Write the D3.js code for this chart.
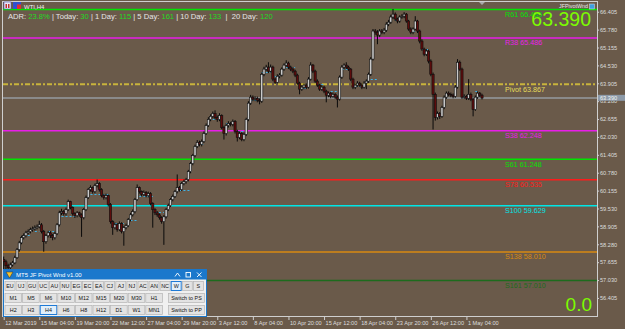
<!DOCTYPE html>
<html>
<head>
<meta charset="utf-8">
<script src="https://cdn.jsdelivr.net/npm/d3@7"></script>
<style>
  html, body { margin: 0; padding: 0; background: #6a5a4a; overflow: hidden; }
</style>
</head>
<body>
<div id="chart"></div>
<script>
// WTI H4 bars, 12 Mar 2019 12:00 -> 2 May 2019
const opens = [
  57.75,57.67,57.53,57.46,57.56,57.63,57.81,58.09,58.33,58.51,
  58.58,58.68,58.72,58.79,58.82,58.86,58.89,58.96,58.72,58.37,
  58.58,58.68,58.58,58.51,58.65,58.96,59.38,59.42,59.35,59.49,
  59.77,59.56,59.35,59.28,59.38,59.31,59.21,59.49,59.91,60.19,
  60.26,60.12,60.33,60.40,60.19,59.98,59.91,59.98,59.67,59.07,
  58.86,58.96,58.79,59.00,58.72,58.86,58.93,59.14,59.31,59.42,
  59.84,60.26,60.12,60.02,60.09,59.98,60.05,59.70,59.49,59.38,
  59.31,59.21,59.07,59.24,59.49,59.63,59.84,59.95,60.12,60.26,
  60.19,60.40,60.47,60.54,60.82,61.10,61.38,61.70,61.84,61.77,
  61.87,62.15,62.43,62.64,62.75,62.85,62.71,62.64,62.78,62.36,
  62.15,62.43,62.50,62.47,62.57,62.22,62.01,62.15,61.94,62.12,
  62.64,63.21,63.42,63.35,63.38,63.31,63.28,64.22,64.40,64.47,
  64.33,64.47,64.05,63.94,64.15,64.19,64.40,64.54,64.61,64.47,
  64.40,64.33,64.19,63.91,63.70,63.77,63.84,63.77,64.05,64.54,
  64.33,63.98,63.84,63.70,63.77,63.63,63.49,63.56,63.45,63.52,
  63.42,63.35,64.12,64.47,64.54,64.47,64.40,64.05,63.77,63.84,
  63.91,63.84,63.77,63.91,63.98,64.22,64.75,65.73,65.69,65.59,
  65.73,65.69,65.76,65.97,66.04,66.22,66.32,66.15,66.08,66.22,
  66.25,66.32,66.08,65.80,65.69,65.80,66.08,65.73,65.38,65.10,
  64.92,65.03,64.68,64.22,63.52,62.71,62.85,62.75,63.06,63.42,
  63.56,63.52,63.49,63.45,63.77,64.64,64.40,63.42,63.45,63.38,
  63.52,63.35,62.99,63.42,63.56,63.49
];
const highs = [
  57.85,57.74,57.60,57.64,57.70,57.88,58.15,58.40,58.58,58.66,
  58.75,58.80,58.86,58.90,58.94,58.97,59.10,59.02,58.78,58.64,
  58.75,58.74,58.64,58.72,59.02,59.45,59.52,59.48,59.56,59.84,
  59.80,59.60,59.40,59.44,59.42,59.36,59.55,59.98,60.25,60.34,
  60.30,60.40,60.54,60.45,60.24,60.04,60.05,60.02,59.72,59.12,
  59.04,59.02,59.08,59.05,58.92,59.00,59.20,59.38,59.50,59.90,
  60.37,60.30,60.16,60.16,60.14,60.12,60.10,59.75,59.54,59.44,
  59.36,59.26,59.30,59.55,59.70,59.90,60.02,60.18,60.72,60.32,
  60.46,60.54,60.60,60.88,61.16,61.44,61.76,61.92,61.90,61.94,
  62.22,62.50,62.72,62.82,62.92,62.96,62.78,62.86,62.82,62.42,
  62.50,62.58,62.56,62.64,62.62,62.28,62.22,62.20,62.18,62.70,
  63.28,63.50,63.48,63.45,63.44,63.38,64.28,64.48,64.55,64.64,
  64.56,64.52,64.10,64.22,64.26,64.46,64.60,64.71,64.66,64.52,
  64.46,64.38,64.24,63.96,63.84,63.90,63.90,64.12,64.64,64.58,
  64.38,64.04,63.90,63.84,63.82,63.68,63.62,63.60,63.58,63.56,
  63.48,64.18,64.54,64.60,64.64,64.52,64.44,64.10,63.90,63.98,
  63.96,63.90,63.98,64.04,64.28,64.82,65.80,65.80,65.76,65.80,
  65.80,65.84,66.04,66.12,66.30,66.50,66.38,66.20,66.28,66.32,
  66.39,66.36,66.12,65.86,65.86,66.25,66.12,65.78,65.44,65.15,
  65.10,65.08,64.74,64.28,63.58,62.92,62.90,63.12,63.48,63.62,
  63.62,63.58,63.55,63.84,64.75,64.70,64.45,63.52,63.50,64.05,
  63.58,63.40,63.48,63.62,63.60,63.54
];
const lows = [
  57.21,57.40,57.35,57.40,57.50,57.58,57.77,58.02,58.28,58.45,
  58.52,58.62,58.66,58.72,58.76,58.80,58.84,58.66,58.02,58.30,
  58.52,58.50,58.42,58.45,58.60,58.90,59.30,59.28,59.28,59.44,
  59.50,59.28,59.20,59.22,59.24,58.54,59.15,59.44,59.86,60.12,
  60.05,60.06,60.27,60.12,59.92,59.84,59.85,59.60,59.00,58.61,
  58.80,58.72,58.74,58.66,58.23,58.80,58.88,59.08,59.25,59.36,
  59.80,60.05,59.95,59.96,59.92,59.92,59.64,58.86,59.30,59.24,
  59.14,59.00,58.26,59.18,59.44,59.58,59.78,59.90,60.06,60.12,
  60.14,60.34,60.40,60.48,60.76,61.04,61.32,61.64,61.70,61.70,
  61.82,62.10,62.38,62.58,62.68,62.64,62.56,62.58,62.30,61.94,
  62.08,62.36,62.40,62.40,62.15,61.87,61.95,61.88,61.88,62.06,
  62.58,63.15,63.28,63.28,63.24,63.17,63.22,64.15,64.34,64.26,
  64.28,63.98,63.88,63.90,64.08,64.14,64.34,64.48,64.40,64.33,
  64.26,64.12,63.85,63.52,63.64,63.70,63.70,63.72,64.00,64.26,
  63.92,63.78,63.64,63.64,63.56,63.24,63.42,63.38,63.40,63.36,
  63.06,63.30,64.06,64.40,64.40,64.34,63.98,63.70,63.70,63.78,
  63.78,63.70,63.72,63.70,63.92,64.16,64.70,65.60,65.27,65.52,
  65.62,65.62,65.70,65.90,65.98,66.15,66.08,66.00,66.02,66.16,
  66.18,66.02,65.74,65.62,65.62,65.75,65.66,65.30,65.04,64.85,
  64.86,64.60,64.15,62.29,62.60,62.64,62.66,62.70,63.00,63.36,
  63.45,63.42,63.38,63.40,63.72,64.34,63.36,63.36,63.32,63.32,
  63.28,62.75,62.94,63.36,63.42,63.34
];
const closes = [
  57.67,57.53,57.46,57.56,57.63,57.81,58.09,58.33,58.51,58.58,
  58.68,58.72,58.79,58.82,58.86,58.89,58.96,58.72,58.37,58.58,
  58.68,58.58,58.51,58.65,58.96,59.38,59.42,59.35,59.49,59.77,
  59.56,59.35,59.28,59.38,59.31,59.21,59.49,59.91,60.19,60.26,
  60.12,60.33,60.40,60.19,59.98,59.91,59.98,59.67,59.07,58.86,
  58.96,58.79,59.00,58.72,58.86,58.93,59.14,59.31,59.42,59.84,
  60.26,60.12,60.02,60.09,59.98,60.05,59.70,59.49,59.38,59.31,
  59.21,59.07,59.24,59.49,59.63,59.84,59.95,60.12,60.26,60.19,
  60.40,60.47,60.54,60.82,61.10,61.38,61.70,61.84,61.77,61.87,
  62.15,62.43,62.64,62.75,62.85,62.71,62.64,62.78,62.36,62.15,
  62.43,62.50,62.47,62.57,62.22,62.01,62.15,61.94,62.12,62.64,
  63.21,63.42,63.35,63.38,63.31,63.28,64.22,64.40,64.47,64.33,
  64.47,64.05,63.94,64.15,64.19,64.40,64.54,64.61,64.47,64.40,
  64.33,64.19,63.91,63.70,63.77,63.84,63.77,64.05,64.54,64.33,
  63.98,63.84,63.70,63.77,63.63,63.49,63.56,63.45,63.52,63.42,
  63.35,64.12,64.47,64.54,64.47,64.40,64.05,63.77,63.84,63.91,
  63.84,63.77,63.91,63.98,64.22,64.75,65.73,65.69,65.59,65.73,
  65.69,65.76,65.97,66.04,66.22,66.32,66.15,66.08,66.22,66.25,
  66.32,66.08,65.80,65.69,65.80,66.08,65.73,65.38,65.10,64.92,
  65.03,64.68,64.22,63.52,62.71,62.85,62.75,63.06,63.42,63.56,
  63.52,63.49,63.45,63.77,64.64,64.40,63.42,63.45,63.38,63.52,
  63.35,62.99,63.42,63.56,63.49,63.39
];

// daily pivot marks (cyan dashes): start bar, end bar, price
const markStart = [9,14,20,26,39,50,57,61,68,79,87,94,100,105,111,116,122,127,133,141,147,152,158,165,168,176,184,188,195,206,212];
const markEnd   = [12,16,24,32,48,54,60,67,72,84,90,97,103,108,114,120,124,131,136,144,150,156,161,168,171,178,186,191,197,207,213];
const markPrice = [58.61,58.75,58.75,59.28,60.02,59.03,59.14,59.98,59.42,60.19,61.80,62.64,62.50,62.23,63.31,64.30,64.16,64.49,63.75,63.87,63.64,64.42,63.81,64.05,65.72,66.12,65.72,65.12,62.88,63.46,63.64];

const levelNames  = ["R61", "R38", "Pivot", "S38", "S61", "S78", "S100", "S138", "S161"];
const levelValues = [66.485, 65.486, 63.867, 62.248, 61.248, 60.535, 59.629, 58.010, 57.010];

const currentPrice = 63.390;
const spreadText = "0.0";

const priceTicks = [66.405, 65.780, 65.155, 64.530, 63.905, 63.280, 62.655, 62.030, 61.405, 60.780, 60.155, 59.530, 58.905, 58.280, 57.655, 57.030, 56.405];
const timeLabels = ["12 Mar 2019", "15 Mar 04:00", "19 Mar 20:00", "22 Mar 12:00", "27 Mar 04:00", "29 Mar 20:00", "3 Apr 12:00", "8 Apr 04:00", "10 Apr 20:00", "15 Apr 12:00", "18 Apr 04:00", "23 Apr 20:00", "26 Apr 12:00", "1 May 04:00"];
const timeLabelBars = [0, 16, 32, 48, 64, 80, 96, 112, 128, 144, 160, 176, 192, 208];

const adrNames  = ["ADR: ", " | Today: ", " | 1 Day: ", " | 5 Day: ", " | 10 Day: ", "  |  20 Day: "];
const adrValues = ["23.8%", "30", "115", "161", "133", "120"];

const pairButtons = ["EU","UJ","GU","UC","AU","NU","EG","EC","EA","CJ","AJ","NJ","AC","AN","NC","W","G","S"];
const tfRow1 = ["M1","M5","M6","M10","M12","M15","M20","M30","H1","Switch to PS"];
const tfRow2 = ["H2","H3","H4","H6","H8","H12","D1","W1","MN1","Switch to PP"];
const activeButtons = ["W", "H4"];

// styles
const levelColors = {
    R61: "#00e400", R38: "#e81ee8", Pivot: "#c9b43c", S38: "#e81ee8", S61: "#00e400",
    S78: "#ff1a1a", S100: "#00e6e6", S138: "#d88a12", S161: "#1d6b1d"
};
const labelColors = { Pivot: "#e6dc5a" };
const FONT = '"Liberation Sans", Arial, sans-serif';

class PivotChart {
    constructor(selector) {
        this.selector = selector;
        this.width = 625;
        this.height = 329;
        this.plot = { left: 3, right: 597, top: 2, bottom: 316 };
        this.init();
    }

    init() {
        this.createSvg();
        this.createScales();
        this.drawFrame();
        this.drawLevels();
        this.drawMarks();
        this.drawCandles();
        this.drawLevelLabels();
        this.drawAxes();
        this.drawHeader();
        this.drawPanel();
    }

    createSvg() {
        this.svg = d3.select(this.selector)
            .append('svg')
            .attr('width', this.width)
            .attr('height', this.height)
            .style('display', 'block')
            .style('font-family', FONT);

        this.svg.append('rect')
            .attr('width', this.width)
            .attr('height', this.height)
            .attr('fill', '#6a5a4a');

        this.svg.append('clipPath').attr('id', 'plotclip')
            .append('rect')
            .attr('x', this.plot.left).attr('y', this.plot.top)
            .attr('width', this.plot.right - this.plot.left)
            .attr('height', this.plot.bottom - this.plot.top);
    }

    createScales() {
        // bar index -> x
        this.x = d3.scaleLinear().domain([0, closes.length - 1]).range([3.7, 482]);
        this.y = d3.scaleLinear().domain([55.774, 66.745]).range([this.plot.bottom, this.plot.top]);
    }

    drawFrame() {
        const p = this.plot;
        this.svg.append('rect')
            .attr('x', p.left - 0.5).attr('y', p.top - 0.5)
            .attr('width', p.right - p.left + 1).attr('height', p.bottom - p.top + 1)
            .attr('fill', 'none')
            .attr('stroke', '#cfcfcf')
            .attr('stroke-width', 1);
    }

    drawLevels() {
        const p = this.plot;
        const g = this.svg.append('g').attr('clip-path', 'url(#plotclip)');

        g.selectAll('line.level')
            .data(levelNames)
            .enter()
            .append('line')
            .attr('class', 'level')
            .attr('x1', p.left).attr('x2', p.right)
            .attr('y1', (d, i) => this.y(levelValues[i]))
            .attr('y2', (d, i) => this.y(levelValues[i]))
            .attr('stroke', d => levelColors[d])
            .attr('stroke-width', d => d === 'Pivot' ? 2 : 1.5)
            .attr('stroke-dasharray', d => d === 'Pivot' ? '5,2,2,2' : null);

        // bid line
        g.append('line')
            .attr('x1', p.left).attr('x2', p.right)
            .attr('y1', Math.round(this.y(currentPrice))).attr('y2', Math.round(this.y(currentPrice)))
            .attr('stroke', '#8a8a8a')
            .attr('stroke-width', 2)
            .attr('shape-rendering', 'crispEdges');
    }

    drawMarks() {
        const g = this.svg.append('g').attr('clip-path', 'url(#plotclip)');
        g.selectAll('line')
            .data(markPrice)
            .enter()
            .append('line')
            .attr('x1', (d, i) => this.x(markStart[i]))
            .attr('x2', (d, i) => this.x(markEnd[i]))
            .attr('y1', d => Math.round(this.y(d)) + 0.5)
            .attr('y2', d => Math.round(this.y(d)) + 0.5)
            .attr('stroke', '#3fb4e8')
            .attr('stroke-width', 1)
            .attr('stroke-dasharray', '2,2');
    }

    drawCandles() {
        const g = this.svg.append('g').attr('clip-path', 'url(#plotclip)');
        const bars = closes.map((c, i) => ({ i, o: opens[i], h: highs[i], l: lows[i], c }));

        const candle = g.selectAll('g.candle')
            .data(bars)
            .enter()
            .append('g')
            .attr('class', 'candle');

        candle.append('line')
            .attr('x1', d => this.x(d.i)).attr('x2', d => this.x(d.i))
            .attr('y1', d => this.y(d.h)).attr('y2', d => this.y(d.l))
            .attr('stroke', '#0a0a0a')
            .attr('stroke-width', 1);

        candle.append('rect')
            .attr('x', d => this.x(d.i) - 1.1)
            .attr('width', 2.2)
            .attr('y', d => this.y(Math.max(d.o, d.c)))
            .attr('height', d => Math.max(0.8, Math.abs(this.y(d.o) - this.y(d.c))))
            .attr('fill', d => d.c >= d.o ? '#cacaca' : '#5e0c0c')
            .attr('stroke', '#0e0e0e')
            .attr('stroke-width', 0.6);
    }

    drawLevelLabels() {
        this.svg.append('g')
            .selectAll('text')
            .data(levelNames)
            .enter()
            .append('text')
            .attr('x', 505)
            .attr('y', (d, i) => this.y(levelValues[i]) + 7.3)
            .attr('font-size', '7.2px')
            .attr('fill', d => labelColors[d] || levelColors[d])
            .text((d, i) => `${d} ${levelValues[i].toFixed(3)}`);

        // big bid / spread readouts
        this.svg.append('text')
            .attr('x', 591).attr('y', 26)
            .attr('text-anchor', 'end')
            .attr('font-size', '19.5px')
            .attr('fill', '#7cfc00')
            .text(currentPrice.toFixed(3));

        this.svg.append('text')
            .attr('x', 592).attr('y', 311)
            .attr('text-anchor', 'end')
            .attr('font-size', '19px')
            .attr('fill', '#7cfc00')
            .text(spreadText);
    }

    drawAxes() {
        const p = this.plot;
        const yAxis = d3.axisRight(this.y)
            .tickValues(priceTicks)
            .tickFormat(d3.format('.3f'))
            .tickSize(2)
            .tickPadding(1);

        const ya = this.svg.append('g')
            .attr('transform', `translate(${p.right},0)`)
            .call(yAxis);
        ya.select('.domain').remove();
        ya.selectAll('line').attr('stroke', '#cfcfcf');
        ya.selectAll('text')
            .attr('fill', '#dedede')
            .attr('font-size', '5.6px')
            .attr('font-family', FONT);

        // bid box on the price scale
        const by = this.y(currentPrice);
        this.svg.append('rect')
            .attr('x', 598).attr('y', by - 3.2)
            .attr('width', 27).attr('height', 6)
            .attr('fill', '#8d9aa8');
        this.svg.append('text')
            .attr('x', 600).attr('y', by + 1.8)
            .attr('font-size', '5.6px')
            .attr('fill', '#f4f4f4')
            .text(currentPrice.toFixed(3));

        const xAxis = d3.axisBottom(this.x)
            .tickValues(timeLabelBars)
            .tickFormat((d, i) => timeLabels[i])
            .tickSize(4)
            .tickPadding(1);

        const xa = this.svg.append('g')
            .attr('transform', `translate(0,${p.bottom})`)
            .call(xAxis);
        xa.select('.domain').remove();
        xa.selectAll('line').attr('stroke', '#cfcfcf');
        xa.selectAll('text')
            .attr('text-anchor', 'start')
            .attr('dx', '1')
            .attr('fill', '#dedede')
            .attr('font-size', '5.6px')
            .attr('font-family', FONT);

        // shift marker at the top
        this.svg.append('path')
            .attr('d', 'M479,2 L485,2 L482,5 Z')
            .attr('fill', '#a8a8a8');
    }

    drawHeader() {
        // symbol icons
        this.svg.append('rect').attr('x', 4).attr('y', 2).attr('width', 7).attr('height', 7)
            .attr('fill', '#e8e8f8').attr('stroke', '#5050b0').attr('stroke-width', 0.6);
        this.svg.append('rect').attr('x', 5.5).attr('y', 4).attr('width', 1.5).attr('height', 4).attr('fill', '#c03030');
        this.svg.append('rect').attr('x', 8).attr('y', 4).attr('width', 1.5).attr('height', 4).attr('fill', '#c03030');
        this.svg.append('rect').attr('x', 13).attr('y', 2).attr('width', 8).attr('height', 7).attr('fill', '#3050d0');
        this.svg.append('rect').attr('x', 17).attr('y', 4.5).attr('width', 4).attr('height', 4.5).attr('fill', '#e03030');

        this.svg.append('text')
            .attr('x', 24).attr('y', 8.5)
            .attr('font-size', '6px')
            .attr('fill', '#f0f0f0')
            .text('WTI,H4');

        const adr = this.svg.append('text')
            .attr('x', 8).attr('y', 18.5)
            .attr('font-size', '7.6px')
            .attr('xml:space', 'preserve')
            .style('white-space', 'pre');
        adrNames.forEach((n, i) => {
            adr.append('tspan').attr('fill', '#e6e6e6').text(n);
            adr.append('tspan').attr('fill', '#22dd22').text(adrValues[i]);
        });

        // indicator tag, top right
        this.svg.append('text')
            .attr('x', 588).attr('y', 8)
            .attr('text-anchor', 'end')
            .attr('font-size', '5.4px')
            .attr('fill', '#e8e8e8')
            .text('JFPivotWnd');
        this.svg.append('rect').attr('x', 589.5).attr('y', 4).attr('width', 5).attr('height', 5)
            .attr('fill', '#3fa0e0').attr('stroke', '#e0e0e0').attr('stroke-width', 0.5);
    }

    drawPanel() {
        const px = 3, py = 269, pw = 203, ph = 47;
        const g = this.svg.append('g');

        g.append('rect')
            .attr('x', px + 0.5).attr('y', py + 0.5)
            .attr('width', pw).attr('height', ph)
            .attr('fill', '#f0f0f0')
            .attr('stroke', '#1b76c8');

        g.append('rect')
            .attr('x', px + 0.5).attr('y', py + 0.5)
            .attr('width', pw).attr('height', 10)
            .attr('fill', '#1b78cc');

        // title icon
        g.append('path').attr('d', `M${px + 3},${py + 3} L${px + 10},${py + 3} L${px + 6.5},${py + 9} Z`)
            .attr('fill', '#f2c230').attr('stroke', '#303030').attr('stroke-width', 0.5);

        g.append('text')
            .attr('x', px + 13).attr('y', py + 7.8)
            .attr('font-size', '6px')
            .attr('fill', '#ffffff')
            .text('MT5 JF Pivot Wnd v1.00');

        // window controls
        g.append('path').attr('d', `M${px + 172},${py + 7.5} L${px + 174.5},${py + 4} L${px + 177},${py + 7.5}`)
            .attr('fill', 'none').attr('stroke', '#fff').attr('stroke-width', 0.9);
        g.append('rect').attr('x', px + 183).attr('y', py + 3.5).attr('width', 4.5).attr('height', 4.5)
            .attr('fill', 'none').attr('stroke', '#fff').attr('stroke-width', 0.9);
        g.append('path').attr('d', `M${px + 194},${py + 3.5} L${px + 198.5},${py + 8} M${px + 198.5},${py + 3.5} L${px + 194},${py + 8}`)
            .attr('stroke', '#fff').attr('stroke-width', 0.9);

        const drawRow = (labels, top, pitch, width, lastX, lastW) => {
            const isLast = i => lastX !== undefined && i === labels.length - 1;
            const b = g.append('g').selectAll('g')
                .data(labels)
                .enter()
                .append('g')
                .attr('transform', (d, i) => `translate(${isLast(i) ? lastX : px + 1.5 + i * pitch},${top})`);
            b.append('rect')
                .attr('x', 0.5).attr('y', 0.5)
                .attr('width', (d, i) => isLast(i) ? lastW : width)
                .attr('height', 9)
                .attr('fill', d => activeButtons.includes(d) ? '#e1effa' : '#e3e3e3')
                .attr('stroke', d => activeButtons.includes(d) ? '#1e7ad6' : '#b4b4b4')
                .attr('stroke-width', d => activeButtons.includes(d) ? 1 : 0.7);
            b.append('text')
                .attr('x', (d, i) => (isLast(i) ? lastW : width) / 2 + 0.5)
                .attr('y', 7)
                .attr('text-anchor', 'middle')
                .attr('font-size', '5.4px')
                .attr('fill', '#111')
                .text(d => d);
        };

        drawRow(pairButtons, py + 12, 11.08, 10);
        drawRow(tfRow1, py + 24, 17.6, 16.6, px + 165, 36);
        drawRow(tfRow2, py + 36, 17.6, 16.6, px + 165, 36);
    }
}

new PivotChart('#chart');
</script>
</body>
</html>
